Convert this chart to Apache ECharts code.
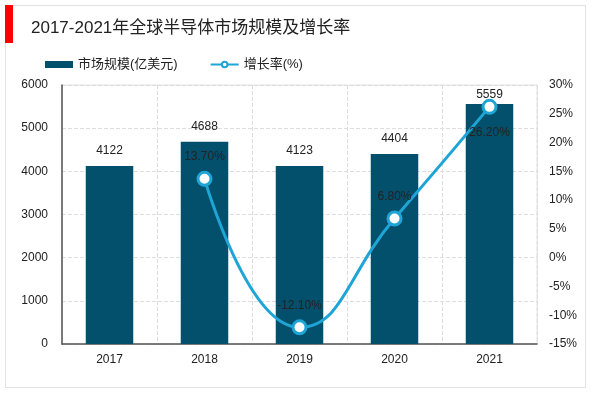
<!DOCTYPE html>
<html><head><meta charset="utf-8">
<script src="https://cdn.jsdelivr.net/npm/echarts@6/dist/echarts.min.js"></script>
<style>html,body{margin:0;padding:0;background:#fff}#c{width:600px;height:393px}
#frame{position:absolute;left:5px;top:5px;width:581px;height:383px;border:1px solid #e3e3e3;box-sizing:border-box;pointer-events:none}
#red{position:absolute;left:5px;top:5px;width:8px;height:38px;background:#ff0000}</style>
</head><body>
<div id="c"></div><div id="frame"></div><div id="red"></div>
<script>
const categories = ['2017', '2018', '2019', '2020', '2021'];
const marketSize = [4122, 4688, 4123, 4404, 5559];
const growthRate = [null, 13.7, -12.1, 6.8, 26.2];
const leftTicks = [0, 6000, 1000];
const rightTicks = [-15, 30, 5];

const chart = echarts.init(document.getElementById('c'));
const font = 'Arial, "Liberation Sans", "Noto Sans CJK SC", sans-serif';
chart.setOption({
  animation: false,
  textStyle: {fontFamily: font},
  title: {text: '2017-2021年全球半导体市场规模及增长率', left: 26, top: 15,
    textStyle: {fontSize: 17, fontWeight: 'normal', color: '#222', fontFamily: font}},
  legend: {left: 40, top: 53, itemGap: 32, itemWidth: 28, itemHeight: 7,
    textStyle: {fontSize: 13, color: '#222', fontFamily: font},
    data: [{name: '市场规模(亿美元)', icon: 'rect'}, {name: '增长率(%)'}]},
  grid: {left: 62, right: 63, top: 85, bottom: 49, show: true, borderColor: '#e0e0e0', borderWidth: 1},
  xAxis: {type: 'category', data: categories,
    axisLine: {lineStyle: {color: '#555', width: 1.5}}, axisTick: {show: false},
    axisLabel: {color: '#222', fontSize: 12, margin: 10},
    splitLine: {show: true, lineStyle: {color: '#ddd', type: 'dashed'}}},
  yAxis: [
    {type: 'value', min: leftTicks[0], max: leftTicks[1], interval: leftTicks[2],
      axisLine: {show: true, lineStyle: {color: '#555', width: 1.5}}, axisTick: {show: false},
      axisLabel: {color: '#222', fontSize: 12, margin: 14, formatter: v => String(v)},
      splitLine: {lineStyle: {color: '#ddd', type: 'dashed'}}},
    {type: 'value', min: rightTicks[0], max: rightTicks[1], interval: rightTicks[2],
      axisLine: {show: false}, axisTick: {show: false},
      axisLabel: {color: '#222', fontSize: 12, margin: 12, formatter: '{value}%'},
      splitLine: {show: false}}
  ],
  series: [
    {name: '市场规模(亿美元)', type: 'bar', barWidth: '50%',
      itemStyle: {color: '#02506b'},
      label: {show: true, position: 'top', color: '#222', fontSize: 12, distance: 9},
      data: marketSize.map((v, i) => i === 4 ? {value: v, label: {distance: 3}} : v)},
    {name: '增长率(%)', type: 'line', yAxisIndex: 1, smooth: true,
      symbol: 'circle', symbolSize: 13,
      lineStyle: {color: '#1ea5d6', width: 3},
      itemStyle: {color: '#fff', borderColor: '#1ea5d6', borderWidth: 3},
      label: {show: true, position: 'top', color: '#222', fontSize: 12, distance: 8,
        formatter: p => p.value.toFixed(2) + '%'},
      data: growthRate.map((v, i) => i === 4 ? {value: v, label: {position: 'bottom', distance: 12}} : v)}
  ]
});
</script>
</body></html>
